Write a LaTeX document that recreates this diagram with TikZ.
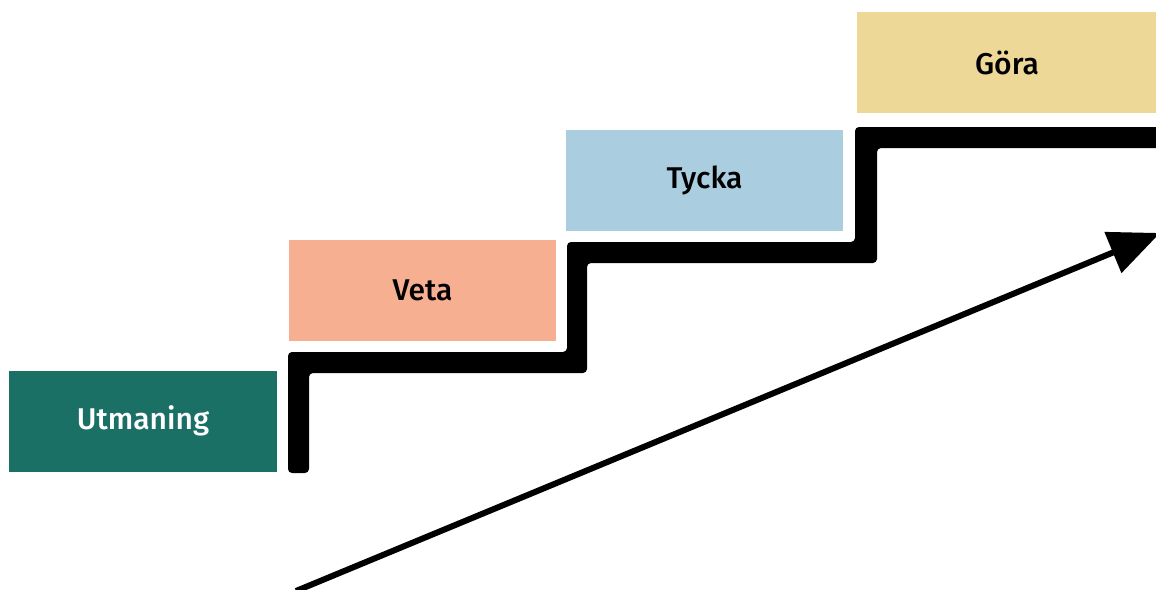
\documentclass[tikz,border=0pt]{standalone}
\usepackage{fontspec}
\setmainfont{Fira Sans Medium}
\usetikzlibrary{arrows.meta}
\definecolor{cteal}{HTML}{1B7066}
\definecolor{csalmon}{HTML}{F7AF91}
\definecolor{cblue}{HTML}{AACDE0}
\definecolor{ckhaki}{HTML}{EDD897}
\begin{document}
\begin{tikzpicture}[x=1pt,y=-1pt,
  stepbox/.style={draw=none,inner sep=0pt,minimum height=101pt,font=\fontsize{30}{30}\selectfont},
]
\useasboundingbox (0,0) rectangle (1156,589);
\node[stepbox,fill=cteal,text=white,minimum width=268pt] (utm) at (143,421) {Utmaning};
\node[stepbox,fill=csalmon,text=black,minimum width=267pt] (veta) at (422.5,290.5) {Veta};
\node[stepbox,fill=cblue,text=black,minimum width=277pt] (tycka) at (704.5,180) {Tycka};
\node[stepbox,fill=ckhaki,text=black,minimum width=300pt] (gora) at (1007,62.5) {Göra};
\fill[black,rounded corners=4pt] (288,473) -- (288,352) -- (567,352) -- (567,242) -- (855,242) -- (855,127) -- (1170,127) -- (1170,148) -- (877,148) -- (877,263) -- (587,263) -- (587,373) -- (309,373) -- (309,473) -- cycle;
\coordinate (astart) at (296,591);
\coordinate (aend) at (1160,233);
\draw[line width=6pt,-{Triangle[length=51pt,width=43pt]}] (astart) -- (aend);
\end{tikzpicture}
\end{document}
